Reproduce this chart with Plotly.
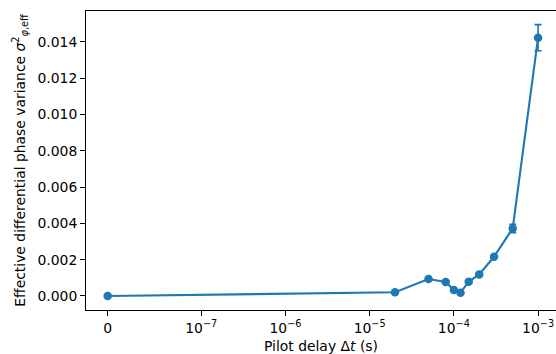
import math
import plotly.graph_objects as go

# Data
delay_s = [0.0, 2e-5, 5e-5, 8e-5, 1e-4, 1.2e-4, 1.5e-4, 2e-4, 3e-4, 5e-4, 1e-3]
variance = [0.0, 0.000204, 0.000936, 0.00077, 0.00033, 0.00018, 0.00079, 0.00119, 0.00216, 0.00372, 0.01422]
variance_err = [0.00002, 0.00002, 0.00003, 0.00003, 0.00003, 0.00002, 0.00003, 0.00003, 0.00005, 0.00023, 0.00072]
x_tick_values = [0.0, 1e-7, 1e-6, 1e-5, 1e-4, 1e-3]
x_tick_labels = ["0", "10<sup>−7</sup>", "10<sup>−6</sup>", "10<sup>−5</sup>", "10<sup>−4</sup>", "10<sup>−3</sup>"]
y_tick_values = [0.000, 0.002, 0.004, 0.006, 0.008, 0.010, 0.012, 0.014]

# symmetric-log scale (linthresh 1e-7, linscale 1), like matplotlib's symlog
LINTHRESH = 1e-7
LINSCALE_ADJ = 1.0 / (1.0 - 1.0 / 10.0)


def symlog(x):
    if abs(x) <= LINTHRESH:
        return x / LINTHRESH * LINSCALE_ADJ
    s = 1 if x > 0 else -1
    return s * (LINSCALE_ADJ + math.log10(abs(x) / LINTHRESH))


xs = [symlog(v) for v in delay_s]
tick_pos = [symlog(v) for v in x_tick_values]

BLUE = "#1f77b4"
FONT = "DejaVu Sans"

fig = go.Figure()
fig.add_trace(go.Scatter(
    x=xs, y=variance,
    mode="lines+markers",
    line=dict(color=BLUE, width=2.1),
    marker=dict(color=BLUE, size=8.5),
    error_y=dict(type="data", array=variance_err, visible=True,
                 color=BLUE, thickness=1.6, width=3.5),
    showlegend=False,
))

fig.update_layout(
    width=556, height=354,
    margin=dict(l=86, r=0, t=11, b=44),
    paper_bgcolor="white", plot_bgcolor="white",
    font=dict(family=FONT, size=13.9, color="black"),
)
fig.update_xaxes(
    range=[-0.2577, 5.3242],
    tickmode="array", tickvals=tick_pos, ticktext=x_tick_labels,
    showgrid=False, zeroline=False,
    showline=True, linecolor="black", linewidth=1.1, mirror=True,
    ticks="outside", ticklen=4.9, tickwidth=1.1, tickcolor="black",
    title=dict(text="Pilot delay Δ<i>t</i> (s)", standoff=6,
               font=dict(family=FONT, size=13.9)),
)
fig.update_yaxes(
    range=[-0.000771, 0.015689],
    tickmode="array", tickvals=y_tick_values, tickformat=".3f",
    showgrid=False, zeroline=False,
    showline=True, linecolor="black", linewidth=1.1, mirror=False,
    ticks="outside", ticklen=4.9, tickwidth=1.1, tickcolor="black",
    title=dict(text="Effective differential phase variance <i>σ</i><sup>2</sup><sub><i>φ</i>,eff</sub>",
               standoff=8, font=dict(family=FONT, size=13.9)),
)

fig.write_html("out.html")
